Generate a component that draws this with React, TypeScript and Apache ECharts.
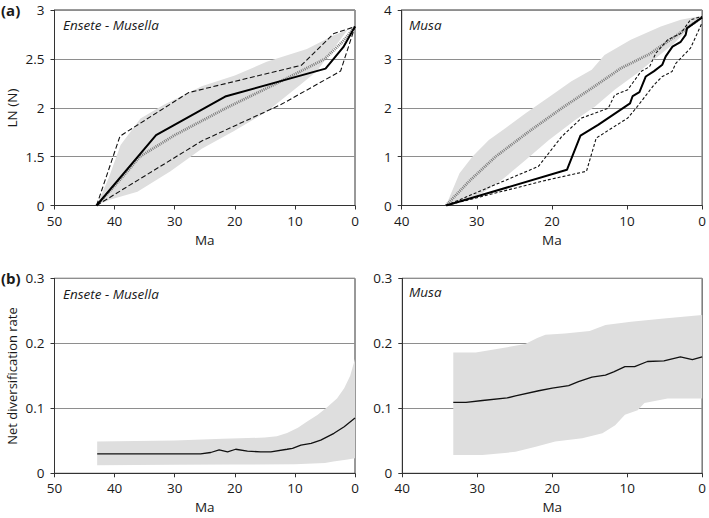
import React, { useEffect, useRef } from "react";
import * as echarts from "echarts";

// ---- Panel (a) left: Ensete - Musella, LTT (axis value 1 is labelled "0": broken axis) ----
const emObserved = [[43, 1], [33.1, 1.72], [21.6, 2.115], [4.9, 2.4], [1.95, 2.62], [0, 2.83]];
const emUpperCI = [[43, 1], [39.1, 1.71], [27.7, 2.155], [8.9, 2.435], [3.5, 2.76], [0, 2.83]];
const emLowerCI = [[43, 1], [25.5, 1.66], [12.4, 2.03], [2.4, 2.375], [0, 2.83]];
const emSimMean = [[43, 1], [39, 1.27], [35.8, 1.5], [30, 1.72], [21.35, 2.0], [13, 2.25], [5, 2.5], [2, 2.68], [0, 2.83]];
const emSimHigh = [[43, 1], [41, 1.28], [39, 1.62], [35.7, 1.89], [31.8, 2.03], [25.5, 2.22], [20, 2.33], [14.7, 2.47], [8, 2.6], [3.6, 2.74], [1.2, 2.8]];
const emSimLow = [[43, 1], [40.8, 1.06], [36.2, 1.14], [30.7, 1.35], [25.5, 1.58], [20.2, 1.76], [14.7, 1.96], [9.2, 2.23], [6.4, 2.37], [3.6, 2.6], [1.2, 2.8]];
const emYTicks = ["0", "1.5", "2", "2.5", "3"];

// ---- Panel (a) right: Musa, LTT ----
const muObserved = [[34.1, 0], [18.0, 0.73], [16.2, 1.43], [13.85, 1.65], [9.6, 2.09], [9.25, 2.24], [8.35, 2.32], [7.5, 2.64], [6.4, 2.75], [5.3, 2.88], [4.85, 3.05], [3.95, 3.25], [2.85, 3.35], [2.2, 3.49], [2.0, 3.63], [0, 3.85]];
const muUpperCI = [[34.1, 0], [21.8, 0.8], [18.7, 1.41], [16.05, 1.79], [12.5, 1.99], [11.65, 2.26], [9.9, 2.37], [8.15, 2.74], [7.0, 2.84], [6.15, 3.12], [4.6, 3.39], [2.85, 3.52], [1.55, 3.8], [0, 3.87]];
const muLowerCI = [[34.1, 0], [20.4, 0.53], [15.4, 0.7], [14.1, 1.38], [9.9, 1.79], [8.6, 2.03], [6.4, 2.47], [5.3, 2.64], [4.0, 2.74], [3.5, 2.91], [1.55, 3.22], [0, 3.74]];
const muSimMean = [[34.1, 0], [31, 0.5], [27.5, 1.0], [23, 1.52], [18.7, 1.99], [14.5, 2.42], [10.8, 2.81], [7, 3.1], [3.5, 3.47], [0, 3.85]];
const muSimHigh = [[34.1, 0], [32.3, 0.66], [30.6, 1.0], [28.4, 1.34], [26.2, 1.58], [23.5, 1.89], [20, 2.26], [17.4, 2.54], [14.7, 2.78], [13, 3.08], [9.5, 3.39], [5.5, 3.66], [2.85, 3.8], [0, 3.88]];
const muSimLow = [[34.1, 0], [29.3, 0.25], [26.6, 0.53], [23.5, 0.93], [20.4, 1.34], [16.9, 1.75], [14.3, 2.02], [11.65, 2.37], [8.6, 2.71], [5.9, 3.05], [3.7, 3.32], [1.55, 3.66], [0, 3.85]];

// ---- Panel (b) left: Ensete - Musella, net diversification rate ----
const emRate = [[42.9, 0.03], [25.7, 0.03], [24, 0.032], [22.6, 0.036], [21.2, 0.033], [19.85, 0.037], [17.9, 0.034], [15.7, 0.033], [14, 0.033], [11.3, 0.037], [10.4, 0.0385], [9, 0.0435], [7.3, 0.046], [5.7, 0.051], [3.5, 0.0615], [1.8, 0.0717], [0, 0.085]];
const emRateHigh = [[42.9, 0.049], [30, 0.0505], [22, 0.053], [15, 0.055], [13, 0.057], [11.3, 0.062], [9.5, 0.07], [7.9, 0.08], [6.2, 0.09], [4.6, 0.102], [3, 0.115], [1.8, 0.131], [0.8, 0.15], [0, 0.176]];
const emRateLow = [[42.9, 0.0125], [30, 0.013], [20, 0.0135], [10, 0.014], [5, 0.016], [3.6, 0.018], [1.5, 0.021], [0, 0.023]];

// ---- Panel (b) right: Musa, net diversification rate ----
const muRate = [[33.2, 0.109], [31.5, 0.109], [29.3, 0.112], [26, 0.116], [24.9, 0.119], [21.8, 0.127], [20, 0.131], [17.8, 0.135], [16.5, 0.141], [14.7, 0.148], [12.9, 0.151], [11.8, 0.156], [10.3, 0.164], [9, 0.164], [7.3, 0.172], [5.1, 0.173], [2.9, 0.179], [1.3, 0.175], [0, 0.179]];
const muRateHigh = [[33.2, 0.186], [30.2, 0.186], [26, 0.194], [23.6, 0.199], [22, 0.208], [20.9, 0.213], [18.3, 0.215], [15, 0.219], [12.9, 0.228], [9.5, 0.233], [5.1, 0.238], [0, 0.2435]];
const muRateLow = [[33.2, 0.028], [29.3, 0.028], [24.9, 0.033], [22.2, 0.041], [19.6, 0.049], [16, 0.054], [13.3, 0.0615], [11.6, 0.074], [10.3, 0.09], [8.6, 0.097], [7.7, 0.108], [4.6, 0.115], [0, 0.115]];

const FONT = "'Open Sans', 'DejaVu Sans', sans-serif";
const TXT = "#1a1a1a";
const FRAME = "#333333";
const GRID = "#8e8e8e";
const BAND = "#dedede";

function band(idx: number, high: number[][], low: number[][]) {
  const pts = high.concat(low.slice().reverse());
  return {
    type: "custom",
    xAxisIndex: idx,
    yAxisIndex: idx,
    silent: true,
    z: 1,
    data: [high[0]],
    renderItem: (_p: any, api: any) => ({
      type: "polygon",
      shape: { points: pts.map((p) => api.coord(p)) },
      style: { fill: BAND, stroke: "none" },
    }),
  };
}

function line(idx: number, data: number[][], style: any, z = 3) {
  return {
    type: "line",
    xAxisIndex: idx,
    yAxisIndex: idx,
    data,
    symbol: "none",
    silent: true,
    z,
    lineStyle: style,
  };
}

function xAxis(idx: number, max: number) {
  return {
    type: "value",
    gridIndex: idx,
    min: 0,
    max,
    interval: 10,
    inverse: true,
    name: "Ma",
    nameLocation: "middle",
    nameGap: 27,
    nameTextStyle: { fontSize: 13.5, color: TXT, fontFamily: FONT },
    axisLine: { show: true, onZero: false, lineStyle: { color: FRAME, width: 1 } },
    axisTick: { show: true, length: 4, lineStyle: { color: FRAME } },
    axisLabel: { fontSize: 13.5, color: TXT, fontFamily: FONT, margin: 8 },
    splitLine: { show: false },
  };
}

function yAxis(idx: number, min: number, max: number, interval: number, fmt: (v: number) => string) {
  return {
    type: "value",
    gridIndex: idx,
    min,
    max,
    interval,
    axisLine: { show: true, onZero: false, lineStyle: { color: FRAME, width: 1 } },
    axisTick: { show: true, length: 4, lineStyle: { color: FRAME } },
    axisLabel: { fontSize: 13.5, color: TXT, fontFamily: FONT, margin: 10, formatter: fmt },
    splitLine: { show: true, lineStyle: { color: GRID, width: 1 } },
  };
}

const solid = { color: "#000", width: 2, type: "solid" };
const dashA = { color: "#111", width: 1.1, type: [5, 2.5] };
const dashB = { color: "#111", width: 1.1, type: [3, 2] };
const dotted = { color: "#7c7c7c", width: 2.8, type: [1, 1] };
const rateLine = { color: "#111", width: 1.3, type: "solid" };

export default function App() {
  const ref = useRef<HTMLDivElement>(null);
  useEffect(() => {
    if (!ref.current) return;
    const chart = echarts.init(ref.current, null, { renderer: "svg" });
    const gridBase = { show: true, borderColor: FRAME, borderWidth: 1, backgroundColor: "transparent" };
    chart.setOption({
      animation: false,
      grid: [
        { ...gridBase, left: 54.5, top: 10, width: 300.5, height: 195.5 },
        { ...gridBase, left: 401.7, top: 10, width: 303.3, height: 195.5 },
        { ...gridBase, left: 54.5, top: 278.3, width: 300.5, height: 195 },
        { ...gridBase, left: 402.3, top: 278.3, width: 302.7, height: 195 },
      ],
      xAxis: [xAxis(0, 50), xAxis(1, 40), xAxis(2, 50), xAxis(3, 40)],
      yAxis: [
        yAxis(0, 1, 3, 0.5, (v: number) => emYTicks[Math.round((v - 1) / 0.5)]),
        yAxis(1, 0, 4, 1, (v: number) => String(v)),
        yAxis(2, 0, 0.3, 0.1, (v: number) => (v === 0 ? "0" : v.toFixed(1))),
        yAxis(3, 0, 0.3, 0.1, (v: number) => (v === 0 ? "0" : v.toFixed(1))),
      ],
      series: [
        band(0, emSimHigh, emSimLow),
        line(0, emSimMean, dotted, 2),
        line(0, emUpperCI, dashA),
        line(0, emLowerCI, dashA),
        line(0, emObserved, solid, 4),
        band(1, muSimHigh, muSimLow),
        line(1, muSimMean, dotted, 2),
        line(1, muUpperCI, dashB),
        line(1, muLowerCI, dashB),
        line(1, muObserved, solid, 4),
        band(2, emRateHigh, emRateLow),
        line(2, emRate, rateLine),
        band(3, muRateHigh, muRateLow),
        line(3, muRate, rateLine),
      ],
      graphic: [
        { type: "text", x: 1, y: 10, style: { text: "(a)", font: `bold 15px ${FONT}`, fill: TXT, verticalAlign: "middle" } },
        { type: "text", x: 1, y: 278, style: { text: "(b)", font: `bold 15px ${FONT}`, fill: TXT, verticalAlign: "middle" } },
        { type: "text", x: 63, y: 25, style: { text: "Ensete - Musella", font: `italic 13.5px ${FONT}`, fill: TXT, verticalAlign: "middle" } },
        { type: "text", x: 409, y: 25, style: { text: "Musa", font: `italic 13.5px ${FONT}`, fill: TXT, verticalAlign: "middle" } },
        { type: "text", x: 63, y: 294, style: { text: "Ensete - Musella", font: `italic 13.5px ${FONT}`, fill: TXT, verticalAlign: "middle" } },
        { type: "text", x: 409, y: 292, style: { text: "Musa", font: `italic 13.5px ${FONT}`, fill: TXT, verticalAlign: "middle" } },
        { type: "text", x: 12, y: 108, rotation: Math.PI / 2, style: { text: "LN (N)", font: `13.5px ${FONT}`, fill: TXT, align: "center", verticalAlign: "middle" } },
        { type: "text", x: 12, y: 376, rotation: Math.PI / 2, style: { text: "Net diversification rate", font: `13px ${FONT}`, fill: TXT, align: "center", verticalAlign: "middle" } },
      ],
    });
    return () => chart.dispose();
  }, []);
  return <div ref={ref} style={{ position: "fixed", left: 0, top: 0, width: 709, height: 518, background: "#fff" }} />;
}
